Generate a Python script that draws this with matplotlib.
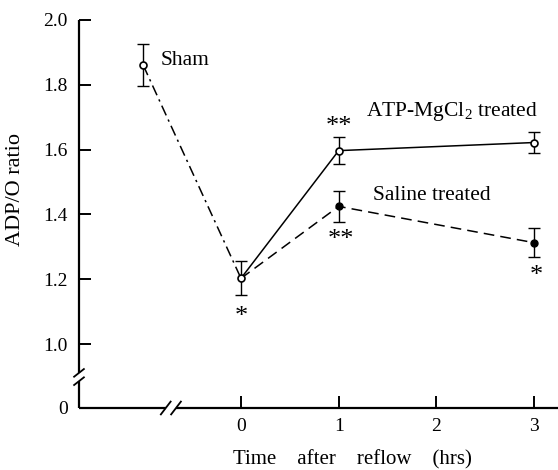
import matplotlib.pyplot as plt
import numpy as np
from matplotlib.scale import FuncScale

plt.rcParams["font.family"] = ["Liberation Serif", "DejaVu Serif"]
plt.rcParams["mathtext.fontset"] = "custom"
plt.rcParams["mathtext.rm"] = "Liberation Serif"

# Sham (pre-ischemia) point, placed left of the time axis break
sham_x = [-1]
sham_y = [1.86]
sham_err = [0.065]

# shared first point at reflow time 0
zero_y = 1.203
zero_err = 0.052

hours = [0, 1, 3]
atp_y = [zero_y, 1.597, 1.622]
atp_err = [zero_err, 0.042, 0.033]
saline_y = [zero_y, 1.425, 1.313]
saline_err = [zero_err, 0.048, 0.045]

x_ticks = [0, 1, 2, 3]
y_ticks = [0, 1.0, 1.2, 1.4, 1.6, 1.8, 2.0]
y_tick_labels = ["0", "1.0", "1.2", "1.4", "1.6", "1.8", "2.0"]

# squeeze the 0..1 part of the y axis (axis break)
k = 0.197


def fwd(y):
    y = np.asarray(y, dtype=float)
    return np.where(y >= 1, y, 1 - (1 - y) * k)


def inv(u):
    u = np.asarray(u, dtype=float)
    return np.where(u >= 1, u, 1 - (1 - u) / k)


fig = plt.figure(figsize=(5.58, 4.70), dpi=100)
ax = fig.add_axes([79 / 558, 62 / 470, 1 - 79 / 558, 388 / 470])
ax.set_yscale(FuncScale(ax.yaxis, (fwd, inv)))
ax.set_xlim(-1.658, 3.245)
ax.set_ylim(0, 2.0)

lw = 1.1
err_kw = dict(ecolor="black", elinewidth=1.0, capsize=4.5, capthick=1.0)

# sham -> 0 (dash-dot)
ax.plot(sham_x + [0], sham_y + [zero_y], color="black", lw=lw,
        dashes=[7, 3, 1.5, 3])
ax.plot(hours, atp_y, color="black", lw=lw, ls="-")
ax.plot(hours, saline_y, color="black", lw=lw, dashes=[7, 4])

ax.errorbar(sham_x, sham_y, yerr=sham_err, fmt="none", **err_kw)
ax.errorbar(hours, atp_y, yerr=atp_err, fmt="none", **err_kw)
ax.errorbar(hours[1:], saline_y[1:], yerr=saline_err[1:], fmt="none", **err_kw)

ax.plot(sham_x + hours, sham_y + atp_y, ls="none", marker="o", ms=5,
        mfc="white", mec="black", mew=1.2, zorder=5)
ax.plot(hours[1:], saline_y[1:], ls="none", marker="o", ms=5,
        mfc="black", mec="black", zorder=5)

# labels and significance marks
fs = 15.5
ax.text(-0.82, 1.875, "Sham", fontsize=fs, va="center")
ax.text(1.28, 1.717, r"ATP-MgCl$_{\mathregular{2}}$ treated", fontsize=fs,
        va="center")
ax.text(1.35, 1.46, "Saline treated", fontsize=fs, va="center")
star = dict(fontsize=19, ha="center", va="center")
ax.text(1, 1.67, "**", **star)
ax.text(1.02, 1.32, "**", **star)
ax.text(3.02, 1.21, "*", **star)
ax.text(0, 1.085, "*", **star)

# axes with break marks
for s in ax.spines.values():
    s.set_visible(False)
sw = 1.6
x0, x1 = ax.get_xlim()
bx_lo, bx_hi = -0.77, -0.665
ax.plot([x0, bx_lo], [0, 0], color="black", lw=sw, clip_on=False,
        solid_capstyle="butt")
ax.plot([bx_hi, x1], [0, 0], color="black", lw=sw, clip_on=False,
        solid_capstyle="butt")
by_lo, by_hi = 0.42, 0.55
ax.plot([x0, x0], [0, by_lo], color="black", lw=sw, clip_on=False,
        solid_capstyle="butt")
ax.plot([x0, x0], [by_hi, 2.0], color="black", lw=sw, clip_on=False,
        solid_capstyle="butt")
dx = 0.05
for bx in (bx_lo, bx_hi):
    ax.plot([bx - dx, bx + dx], [-0.1, 0.1], color="black", lw=1.3,
            clip_on=False)
dxy = 0.05
for by in (by_lo, by_hi):
    ax.plot([x0 - dxy, x0 + dxy], [by - 0.06, by + 0.06], color="black",
            lw=1.3, clip_on=False)

ax.set_xticks(x_ticks)
ax.set_yticks(y_ticks)
ax.set_yticklabels(y_tick_labels)
ax.tick_params(axis="both", direction="in", length=8.5, width=1.4,
               labelsize=14, colors="black")
ax.tick_params(axis="y", pad=8)
ax.tick_params(axis="x", pad=7)

fig.text(352 / 558, 1 - 460 / 470, "Time    after    reflow    (hrs)",
         fontsize=15, ha="center", va="center")
fig.text(16 / 558, 1 - 190 / 470, "ADP/O ratio", fontsize=16, rotation=90,
         ha="center", va="center")

fig.savefig("out.png", dpi=100)
